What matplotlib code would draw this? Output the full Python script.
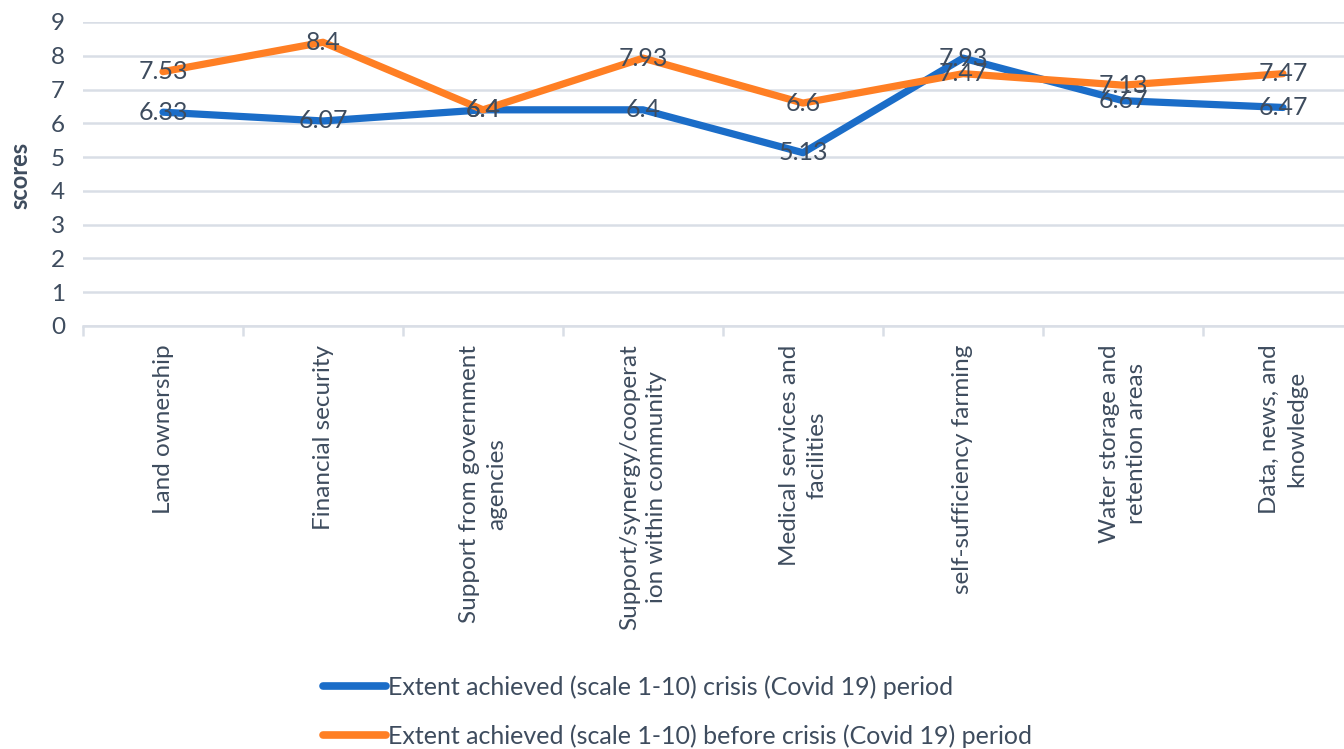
import matplotlib
matplotlib.use("Agg")
import matplotlib.pyplot as plt

categories = ["Land ownership", "Financial security", "Support from government\nagencies",
              "Support/synergy/cooperat\nion within community", "Medical services and\nfacilities",
              "self-sufficiency farming", "Water storage and\nretention areas", "Data, news, and\nknowledge"]
crisis = [6.33, 6.07, 6.4, 6.4, 5.13, 7.93, 6.67, 6.47]
before = [7.53, 8.4, 6.4, 7.93, 6.6, 7.47, 7.13, 7.47]
crisis_labels = ["6.33", "6.07", "6.4", "6.4", "5.13", "7.93", "6.67", "6.47"]
before_labels = ["7.53", "8.4", "6.4", "7.93", "6.6", "7.47", "7.13", "7.47"]
series_names = ["Extent achieved (scale 1-10) crisis (Covid 19) period",
                "Extent achieved (scale 1-10) before crisis (Covid 19) period"]

plt.rcParams['font.family'] = ['Lato', 'DejaVu Sans']
txt = '#3E4C5E'
blue = '#1B6DC8'
orange = '#FF7F24'
grid = '#D9DEE6'

W, H = 1344, 749
fig = plt.figure(figsize=(W/100, H/100), dpi=100)
x0, x1 = 83, 1363
y0, y1 = 326, 22
ax = fig.add_axes([x0/W, 1 - y0/H, (x1-x0)/W, (y0-y1)/H])

x = list(range(len(categories)))
ax.plot(x, crisis, color=blue, lw=5.2, solid_capstyle='round', solid_joinstyle='round', label=series_names[0], zorder=3)
ax.plot(x, before, color=orange, lw=5.2, solid_capstyle='round', solid_joinstyle='round', label=series_names[1], zorder=3)
for xi, v, s in zip(x, crisis, crisis_labels):
    ax.text(xi, v, s, ha='center', va='center', fontsize=18, color=txt, zorder=4)
for xi, v, s in zip(x, before, before_labels):
    ax.text(xi, v, s, ha='center', va='center', fontsize=18, color=txt, zorder=4)

ax.set_xlim(-0.5, len(categories) - 0.5)
ax.set_ylim(0, 9)
ax.set_yticks(range(0, 10))
ax.yaxis.grid(True, color=grid, lw=1.8)
ax.set_axisbelow(True)
for s in ['top', 'right', 'left']:
    ax.spines[s].set_visible(False)
ax.spines['bottom'].set_color(grid)
ax.spines['bottom'].set_linewidth(1.8)
ax.tick_params(axis='y', length=0, labelsize=17.5, labelcolor=txt, pad=13)
ax.set_xticks([i - 0.5 for i in range(len(categories) + 1)])
ax.set_xticklabels([])
ax.tick_params(axis='x', length=7, width=1.8, color=grid)
for xi, c in zip(x, categories):
    ax.text(xi, -0.55, c, rotation=90, ha='center', va='top', multialignment='center',
            fontsize=17.5, color=txt, linespacing=1.35)

fig.text(20/W, 1 - 175/H, 'scores', rotation=90, ha='center', va='center', fontsize=17,
         fontweight='bold', color=txt)

leg = fig.legend(loc='upper left', bbox_to_anchor=(300/W, 1 - 653/H), frameon=False,
                 fontsize=18, handlelength=2.55, handletextpad=0.05, labelspacing=1.0,
                 labelcolor=txt)
for line in leg.get_lines():
    line.set_linewidth(5.5)
    line.set_solid_capstyle('round')

fig.savefig('out.png', dpi=100)
